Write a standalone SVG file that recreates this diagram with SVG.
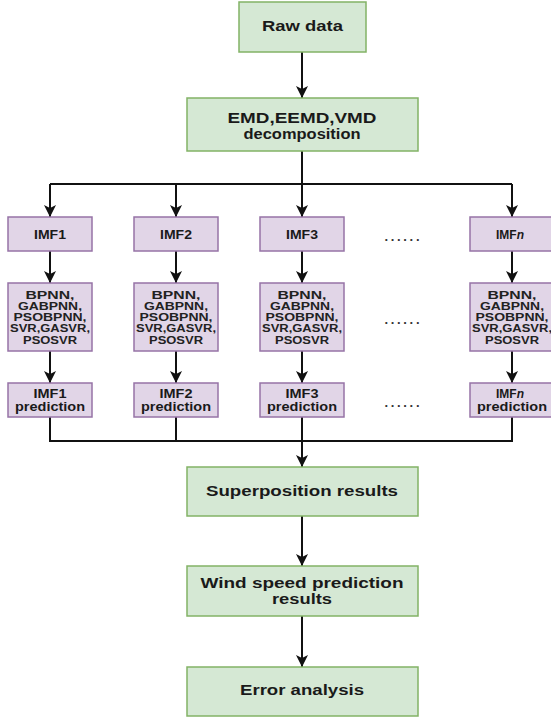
<svg xmlns="http://www.w3.org/2000/svg" width="551" height="717" viewBox="0 0 551 717">
<defs>
<marker id="arr" markerUnits="userSpaceOnUse" markerWidth="12" markerHeight="12" viewBox="0 0 12 12" refX="12" refY="6" orient="auto">
<path d="M0,0 L12,6 L0,12 L3,6 Z" fill="#111"/>
</marker>
<style>
.g{fill:#d5e8d4;stroke:#82b366;stroke-width:1.5}
.p{fill:#e1d5e7;stroke:#9673a6;stroke-width:1.5}
text{font-family:"Liberation Sans",Arial,sans-serif;font-weight:bold;fill:#1a1a1a;text-anchor:middle}
.big{font-size:14px}
.mid{font-size:12px}
.sm{font-size:11px;fill:#222}
.dot{font-size:13px;fill:#333}
.c{fill:none;stroke:#111;stroke-width:2}
</style>
</defs>
<rect width="551" height="717" fill="#fff"/>
<g id="connectors">
<line class="c" x1="302" y1="52" x2="302" y2="98" marker-end="url(#arr)"/>
<polyline class="c" points="302,151 302,184"/>
<polyline class="c" points="50,184 512,184"/>
<line class="c" x1="50" y1="184" x2="50" y2="217" marker-end="url(#arr)"/>
<line class="c" x1="176" y1="184" x2="176" y2="217" marker-end="url(#arr)"/>
<line class="c" x1="302" y1="184" x2="302" y2="217" marker-end="url(#arr)"/>
<line class="c" x1="512" y1="184" x2="512" y2="217" marker-end="url(#arr)"/>
<line class="c" x1="50" y1="251" x2="50" y2="283" marker-end="url(#arr)"/>
<line class="c" x1="176" y1="251" x2="176" y2="283" marker-end="url(#arr)"/>
<line class="c" x1="302" y1="251" x2="302" y2="283" marker-end="url(#arr)"/>
<line class="c" x1="512" y1="251" x2="512" y2="283" marker-end="url(#arr)"/>
<line class="c" x1="50" y1="351" x2="50" y2="383" marker-end="url(#arr)"/>
<line class="c" x1="176" y1="351" x2="176" y2="383" marker-end="url(#arr)"/>
<line class="c" x1="302" y1="351" x2="302" y2="383" marker-end="url(#arr)"/>
<line class="c" x1="512" y1="351" x2="512" y2="383" marker-end="url(#arr)"/>
<polyline class="c" points="50,417 50,441 512,441 512,417"/>
<line class="c" x1="176" y1="417" x2="176" y2="441"/>
<line class="c" x1="302" y1="417" x2="302" y2="467" marker-end="url(#arr)"/>
<line class="c" x1="302" y1="516" x2="302" y2="566" marker-end="url(#arr)"/>
<line class="c" x1="302" y1="616" x2="302" y2="667" marker-end="url(#arr)"/>
</g>
<g id="raw">
<rect class="g" x="239" y="2" width="127" height="50"/>
<text class="big" x="302.5" y="31" textLength="81" lengthAdjust="spacingAndGlyphs">Raw data</text>
</g>
<g id="decomp">
<rect class="g" x="187" y="98" width="231" height="53"/>
<text class="big" x="302" y="122.5" textLength="149" lengthAdjust="spacingAndGlyphs">EMD,EEMD,VMD</text>
<text class="big" x="302" y="138.5" textLength="117" lengthAdjust="spacingAndGlyphs">decomposition</text>
</g>
<g id="imf1">
<rect class="p" x="8" y="217" width="84" height="34"/>
<text class="mid" x="50" y="239" textLength="32" lengthAdjust="spacingAndGlyphs">IMF1</text>
</g>
<g id="imf2">
<rect class="p" x="134" y="217" width="84" height="34"/>
<text class="mid" x="176" y="239" textLength="32" lengthAdjust="spacingAndGlyphs">IMF2</text>
</g>
<g id="imf3">
<rect class="p" x="260" y="217" width="84" height="34"/>
<text class="mid" x="302" y="239" textLength="32" lengthAdjust="spacingAndGlyphs">IMF3</text>
</g>
<g id="imfn">
<rect class="p" x="470" y="217" width="84" height="34"/>
<text class="mid" x="510" y="239">IMF<tspan font-style="italic">n</tspan></text>
</g>
<g id="model1">
<rect class="p" x="8" y="283" width="84" height="68"/>
<text class="sm" x="50" y="299" textLength="49" lengthAdjust="spacingAndGlyphs">BPNN,</text>
<text class="sm" x="50" y="310" textLength="64" lengthAdjust="spacingAndGlyphs">GABPNN,</text>
<text class="sm" x="50" y="321" textLength="73" lengthAdjust="spacingAndGlyphs">PSOBPNN,</text>
<text class="sm" x="50" y="332" textLength="80" lengthAdjust="spacingAndGlyphs">SVR,GASVR,</text>
<text class="sm" x="50" y="343.5" textLength="54" lengthAdjust="spacingAndGlyphs">PSOSVR</text>
</g>
<g id="model2">
<rect class="p" x="134" y="283" width="84" height="68"/>
<text class="sm" x="176" y="299" textLength="49" lengthAdjust="spacingAndGlyphs">BPNN,</text>
<text class="sm" x="176" y="310" textLength="64" lengthAdjust="spacingAndGlyphs">GABPNN,</text>
<text class="sm" x="176" y="321" textLength="73" lengthAdjust="spacingAndGlyphs">PSOBPNN,</text>
<text class="sm" x="176" y="332" textLength="80" lengthAdjust="spacingAndGlyphs">SVR,GASVR,</text>
<text class="sm" x="176" y="343.5" textLength="54" lengthAdjust="spacingAndGlyphs">PSOSVR</text>
</g>
<g id="model3">
<rect class="p" x="260" y="283" width="84" height="68"/>
<text class="sm" x="302" y="299" textLength="49" lengthAdjust="spacingAndGlyphs">BPNN,</text>
<text class="sm" x="302" y="310" textLength="64" lengthAdjust="spacingAndGlyphs">GABPNN,</text>
<text class="sm" x="302" y="321" textLength="73" lengthAdjust="spacingAndGlyphs">PSOBPNN,</text>
<text class="sm" x="302" y="332" textLength="80" lengthAdjust="spacingAndGlyphs">SVR,GASVR,</text>
<text class="sm" x="302" y="343.5" textLength="54" lengthAdjust="spacingAndGlyphs">PSOSVR</text>
</g>
<g id="modeln">
<rect class="p" x="470" y="283" width="84" height="68"/>
<text class="sm" x="512" y="299" textLength="49" lengthAdjust="spacingAndGlyphs">BPNN,</text>
<text class="sm" x="512" y="310" textLength="64" lengthAdjust="spacingAndGlyphs">GABPNN,</text>
<text class="sm" x="512" y="321" textLength="73" lengthAdjust="spacingAndGlyphs">PSOBPNN,</text>
<text class="sm" x="512" y="332" textLength="80" lengthAdjust="spacingAndGlyphs">SVR,GASVR,</text>
<text class="sm" x="512" y="343.5" textLength="54" lengthAdjust="spacingAndGlyphs">PSOSVR</text>
</g>
<g id="pred1">
<rect class="p" x="8" y="383" width="84" height="34"/>
<text class="mid" x="50" y="398" textLength="33" lengthAdjust="spacingAndGlyphs">IMF1</text>
<text class="mid" x="50" y="411" textLength="70" lengthAdjust="spacingAndGlyphs">prediction</text>
</g>
<g id="pred2">
<rect class="p" x="134" y="383" width="84" height="34"/>
<text class="mid" x="176" y="398" textLength="33" lengthAdjust="spacingAndGlyphs">IMF2</text>
<text class="mid" x="176" y="411" textLength="70" lengthAdjust="spacingAndGlyphs">prediction</text>
</g>
<g id="pred3">
<rect class="p" x="260" y="383" width="84" height="34"/>
<text class="mid" x="302" y="398" textLength="33" lengthAdjust="spacingAndGlyphs">IMF3</text>
<text class="mid" x="302" y="411" textLength="70" lengthAdjust="spacingAndGlyphs">prediction</text>
</g>
<g id="predn">
<rect class="p" x="470" y="383" width="84" height="34"/>
<text class="mid" x="510" y="398">IMF<tspan font-style="italic">n</tspan></text>
<text class="mid" x="512" y="411" textLength="70" lengthAdjust="spacingAndGlyphs">prediction</text>
</g>
<g id="dots">
<text class="dot" x="402" y="241" textLength="35" lengthAdjust="spacing">......</text>
<text class="dot" x="402" y="324" textLength="35" lengthAdjust="spacing">......</text>
<text class="dot" x="402" y="407" textLength="35" lengthAdjust="spacing">......</text>
</g>
<g id="superposition">
<rect class="g" x="187" y="467" width="231" height="49"/>
<text class="big" x="302" y="496" textLength="192" lengthAdjust="spacingAndGlyphs">Superposition results</text>
</g>
<g id="wind">
<rect class="g" x="187" y="566" width="231" height="50"/>
<text class="big" x="302" y="588" textLength="203" lengthAdjust="spacingAndGlyphs">Wind speed prediction</text>
<text class="big" x="302" y="604" textLength="60" lengthAdjust="spacingAndGlyphs">results</text>
</g>
<g id="error">
<rect class="g" x="187" y="667" width="231" height="49"/>
<text class="big" x="302" y="695" textLength="124" lengthAdjust="spacingAndGlyphs">Error analysis</text>
</g>
</svg>
